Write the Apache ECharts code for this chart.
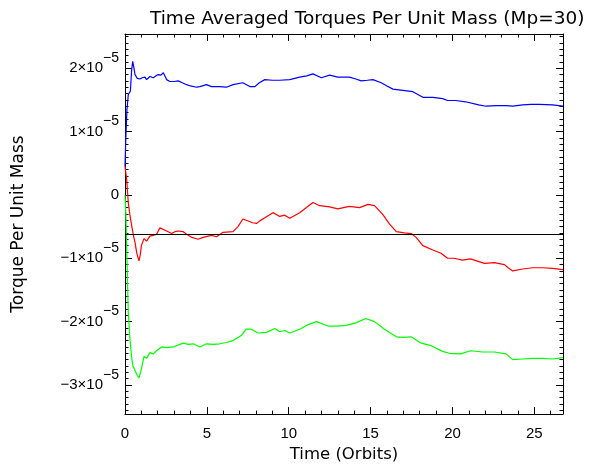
<!DOCTYPE html>
<html>
<head>
<meta charset="utf-8">
<script src="https://cdn.jsdelivr.net/npm/echarts@6/dist/echarts.min.js"></script>
<style>html,body{margin:0;padding:0;background:#fff}#c{width:597px;height:468px}</style>
</head>
<body>
<div id="c"></div>
<script>
// values in units of 1e-5
const titleText = 'Time Averaged Torques Per Unit Mass (Mp=30)';
const xName = 'Time (Orbits)';
const yName = 'Torque Per Unit Mass';
const xMin = 0, xMax = 26.75;
const yMin = -3.46, yMax = 2.54;
const xMajorTicks = [0, 5, 10, 15, 20, 25];
const xMinorTicks = [1,2,3,4,6,7,8,9,11,12,13,14,16,17,18,19,21,22,23,24,26];
const yMajorTicks = [-3, -2, -1, 0, 1, 2];
const yExponent = '−5';
const refLevel = -0.616;

const blueTorque = [[0,0.45],[0.05,0.9],[0.12,1.35],[0.2,1.58],[0.33,1.64],[0.4,1.95],[0.47,2.11],[0.55,2.0],[0.61,1.90],[0.75,1.84],[0.91,1.83],[1.05,1.85],[1.22,1.86],[1.32,1.82],[1.52,1.87],[1.73,1.85],[1.9,1.88],[2.03,1.90],[2.2,1.89],[2.34,1.93],[2.54,1.82],[2.74,1.79],[3.0,1.79],[3.25,1.80],[3.5,1.77],[3.76,1.74],[4.0,1.72],[4.37,1.70],[4.57,1.71],[4.98,1.74],[5.28,1.71],[5.79,1.71],[6.2,1.70],[6.6,1.74],[7.2,1.77],[7.62,1.71],[7.93,1.71],[8.2,1.77],[8.54,1.82],[9.0,1.81],[9.45,1.81],[10.06,1.82],[10.67,1.86],[11.1,1.88],[11.48,1.91],[11.99,1.85],[12.5,1.89],[13.0,1.86],[13.7,1.86],[14.1,1.83],[14.43,1.80],[14.8,1.81],[15.14,1.82],[15.65,1.77],[16.0,1.72],[16.36,1.67],[16.97,1.65],[17.58,1.63],[18.19,1.54],[18.8,1.54],[19.4,1.52],[19.7,1.49],[20.2,1.49],[20.8,1.47],[21.6,1.42],[22.05,1.40],[22.67,1.41],[23.27,1.41],[23.68,1.40],[24.29,1.42],[24.8,1.43],[25.3,1.43],[26.1,1.42],[26.75,1.40]];

const redTorque = [[0,0.45],[0.1,0.25],[0.2,-0.12],[0.3,-0.32],[0.41,-0.49],[0.5,-0.62],[0.61,-0.75],[0.72,-0.92],[0.85,-1.04],[0.93,-0.95],[1.0,-0.80],[1.16,-0.69],[1.32,-0.73],[1.52,-0.65],[1.73,-0.64],[1.93,-0.62],[2.13,-0.52],[2.24,-0.52],[2.54,-0.57],[2.85,-0.61],[3.05,-0.58],[3.25,-0.57],[3.56,-0.58],[3.76,-0.62],[4.07,-0.67],[4.47,-0.70],[4.77,-0.67],[4.88,-0.66],[5.28,-0.64],[5.59,-0.66],[5.99,-0.59],[6.6,-0.58],[6.9,-0.50],[7.2,-0.38],[7.8,-0.44],[8.03,-0.45],[8.23,-0.41],[8.54,-0.36],[9.04,-0.28],[9.45,-0.34],[9.76,-0.32],[10.06,-0.37],[10.67,-0.28],[11.08,-0.20],[11.48,-0.12],[11.89,-0.17],[12.5,-0.19],[13.0,-0.22],[13.7,-0.18],[14.33,-0.20],[14.84,-0.15],[15.24,-0.17],[15.75,-0.31],[16.16,-0.46],[16.57,-0.58],[17.07,-0.60],[17.48,-0.61],[17.78,-0.67],[18.19,-0.80],[18.8,-0.87],[19.3,-0.92],[19.7,-1.00],[20.1,-1.00],[20.6,-1.03],[21.1,-1.01],[21.95,-1.08],[22.56,-1.07],[23.17,-1.10],[23.4,-1.15],[23.68,-1.20],[24.29,-1.17],[24.9,-1.15],[25.5,-1.15],[26.1,-1.16],[26.75,-1.18]];

const greenTorque = [[0,0.0],[0.05,-0.3],[0.1,-0.8],[0.2,-1.85],[0.3,-2.27],[0.4,-2.55],[0.47,-2.69],[0.61,-2.77],[0.75,-2.85],[0.85,-2.89],[1.0,-2.75],[1.16,-2.55],[1.32,-2.58],[1.52,-2.49],[1.73,-2.51],[1.93,-2.46],[2.24,-2.40],[2.54,-2.41],[2.95,-2.40],[3.35,-2.36],[3.56,-2.34],[3.86,-2.36],[4.17,-2.35],[4.57,-2.40],[4.98,-2.35],[5.4,-2.36],[5.79,-2.35],[6.2,-2.33],[6.6,-2.30],[7.1,-2.22],[7.4,-2.12],[7.7,-2.12],[8.13,-2.18],[8.64,-2.17],[9.15,-2.11],[9.45,-2.16],[9.76,-2.14],[10.06,-2.18],[10.67,-2.12],[11.08,-2.06],[11.69,-2.00],[12.0,-2.03],[12.4,-2.07],[13.0,-2.07],[13.5,-2.06],[14.1,-2.02],[14.7,-1.95],[15.24,-2.00],[15.85,-2.12],[16.57,-2.24],[16.97,-2.25],[17.48,-2.24],[18.09,-2.34],[18.7,-2.38],[19.4,-2.47],[19.8,-2.50],[20.5,-2.51],[21.1,-2.46],[21.85,-2.48],[22.56,-2.48],[23.27,-2.51],[23.68,-2.60],[24.29,-2.59],[24.9,-2.58],[25.5,-2.58],[26.1,-2.59],[26.75,-2.57]];

const yMinorTicks = [];
for (let k = Math.ceil(yMin * 10); k <= Math.floor(yMax * 10); k++) {
  if (k % 10 !== 0) yMinorTicks.push(k / 10);
}

const FONT = 'Liberation Sans';
const NFONT = 'DejaVu Sans';
const AX = '#000';

function xAx(pos, major, labels) {
  return {
    type: 'value', position: pos, min: xMin, max: xMax,
    axisLine: { show: major, onZero: false, lineStyle: { color: AX, width: 1 } },
    axisTick: { show: true, inside: true, length: major ? 7 : 3.5,
      customValues: major ? xMajorTicks : xMinorTicks, lineStyle: { color: AX, width: 1 } },
    axisLabel: { show: labels, customValues: xMajorTicks, color: '#000', fontFamily: FONT, fontSize: 15, margin: 12 },
    splitLine: { show: false },
    name: labels ? xName : '', nameLocation: 'middle', nameGap: 27,
    nameTextStyle: { color: '#000', fontFamily: NFONT, fontSize: 16.5 }
  };
}
function yAx(pos, major, labels) {
  return {
    type: 'value', position: pos, min: yMin, max: yMax,
    axisLine: { show: major, onZero: false, lineStyle: { color: AX, width: 1 } },
    axisTick: { show: true, inside: true, length: major ? 7 : 3.5,
      customValues: major ? yMajorTicks : yMinorTicks, lineStyle: { color: AX, width: 1 } },
    axisLabel: { show: labels, customValues: yMajorTicks, margin: 6,
      formatter: function (v) {
        if (Math.abs(v) < 1e-9) return '{z|0}';
        const m = (v < 0 ? '−' : '') + Math.abs(Math.round(v));
        return '{m|' + m + '×10}{s|' + yExponent + '}';
      },
      rich: {
        z: { color: '#000', fontFamily: FONT, fontSize: 15 },
        m: { color: '#000', fontFamily: FONT, fontSize: 15, lineHeight: 34 },
        s: { color: '#000', fontFamily: FONT, fontSize: 14, lineHeight: 14, verticalAlign: 'top' }
      }
    },
    splitLine: { show: false },
    name: labels ? yName : '', nameLocation: 'middle', nameGap: 98,
    nameTextStyle: { color: '#000', fontFamily: NFONT, fontSize: 17 }
  };
}

const chart = echarts.init(document.getElementById('c'), null, { renderer: 'canvas' });
chart.setOption({
  animation: false,
  backgroundColor: '#fff',
  title: { text: titleText, left: 145, top: 5,
    textStyle: { color: '#000', fontFamily: NFONT, fontSize: 18.5, fontWeight: 'normal' } },
  grid: { left: 125, right: 34, top: 34, bottom: 53 },
  xAxis: [xAx('bottom', true, true), xAx('bottom', false, false), xAx('top', true, false), xAx('top', false, false)],
  yAxis: [yAx('left', true, true), yAx('left', false, false), yAx('right', true, false), yAx('right', false, false)],
  series: [
    { type: 'line', data: blueTorque, showSymbol: false, lineStyle: { color: '#0000ff', width: 1.2 }, itemStyle: { color: '#0000ff' } },
    { type: 'line', data: redTorque, showSymbol: false, lineStyle: { color: '#ff0000', width: 1.2 }, itemStyle: { color: '#ff0000' },
      markLine: { silent: true, symbol: 'none', label: { show: false },
        lineStyle: { color: '#000', width: 1, type: 'solid' }, data: [{ yAxis: refLevel }] } },
    { type: 'line', data: greenTorque, showSymbol: false, lineStyle: { color: '#00ff00', width: 1.2 }, itemStyle: { color: '#00ff00' } }
  ]
});
</script>
</body>
</html>
